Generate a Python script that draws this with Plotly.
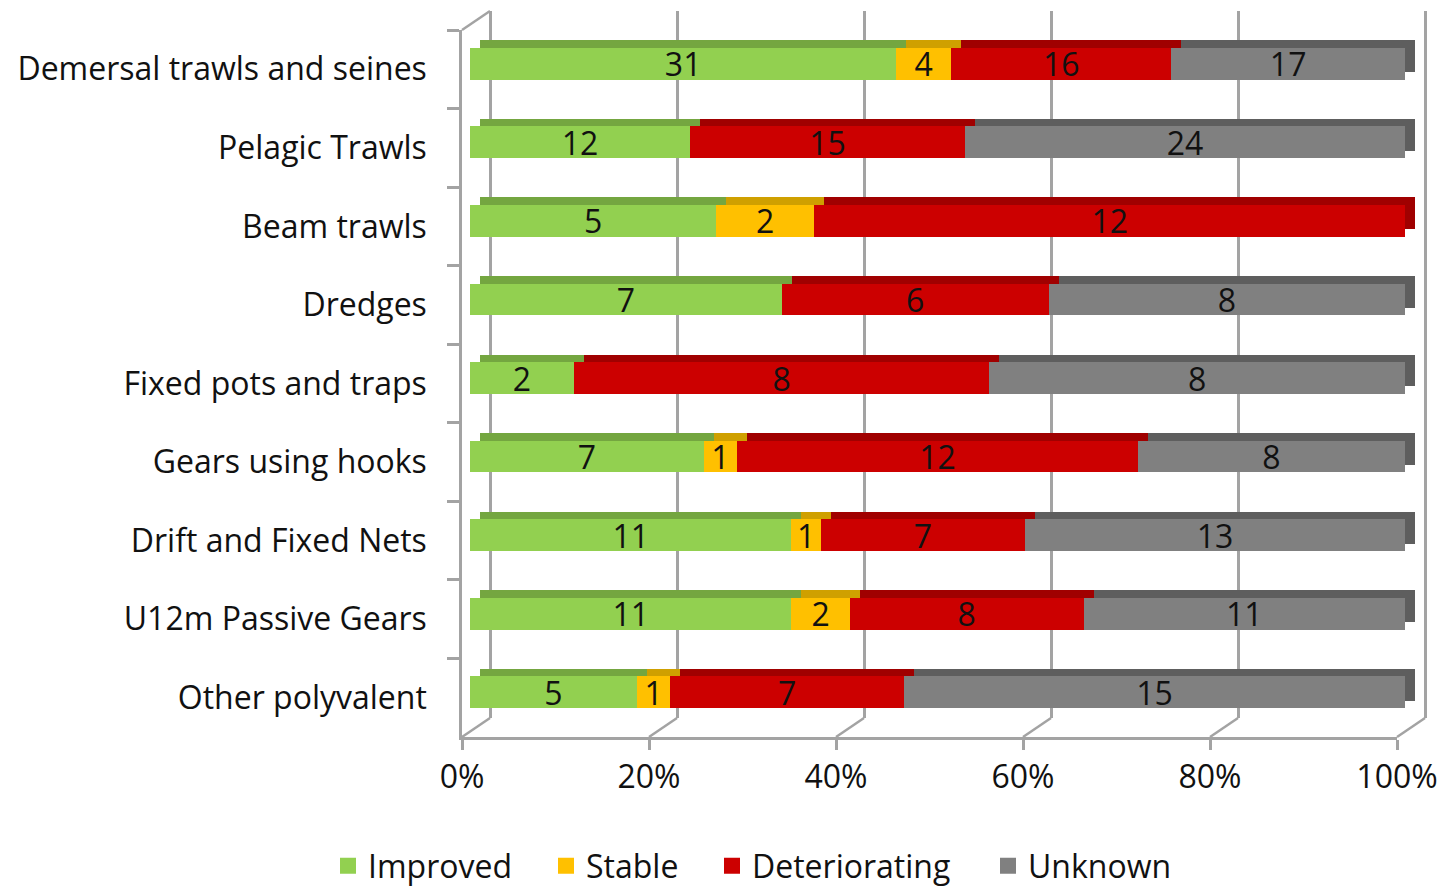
import plotly.graph_objects as go

categories = ["Demersal trawls and seines", "Pelagic Trawls", "Beam trawls", "Dredges",
              "Fixed pots and traps", "Gears using hooks", "Drift and Fixed Nets",
              "U12m Passive Gears", "Other polyvalent"]
improved = [31, 12, 5, 7, 2, 7, 11, 11, 5]
stable = [4, 0, 2, 0, 0, 1, 1, 2, 1]
deteriorating = [16, 15, 12, 6, 8, 12, 7, 8, 7]
unknown = [17, 24, 0, 8, 8, 8, 13, 11, 15]
x_ticks = [0, 20, 40, 60, 80, 100]

series = [
    ("Improved", improved, "#92D050", "#74A640"),
    ("Stable", stable, "#FFC000", "#CFA000"),
    ("Deteriorating", deteriorating, "#CC0000", "#A00000"),
    ("Unknown", unknown, "#808080", "#5E5E5E"),
]

# the page body margin is removed below, so the figure fills the window
OFF = 0
W, H = 1441, 890
FONT = "Open Sans"
FS = 32
TXT = "#111111"
LINE = "#A3A3A3"
LW = 2.5

# geometry (pixels in the screenshot)
FX0, FX1, FY0, FY1 = 462, 1397, 30, 737   # front plane
DX, DY = 28, -19                           # depth of the box
BFX, BFY = 8, -5.5                         # bar front-face depth
SHX, SHY = 10, -7.5                        # bar top/side face extent
LEG_CENTERS = [348, 566, 732, 1008]        # legend square centres
LEG_Y = 866
GPAD = 1.0                                 # back grid range padding (percent)


def px_x(p):
    return (p - OFF) / W


def px_y(p):
    return 1 - (p - OFF) / H


def xd(a, b):
    return [px_x(a), px_x(b)]


def yd(top, bottom):
    return [px_y(bottom), px_y(top)]


fig = go.Figure()

# invisible trace to carry the back wall grid
fig.add_trace(go.Scatter(x=x_ticks, y=[0.5] * len(x_ticks), xaxis="x", yaxis="y",
                         mode="markers", marker=dict(opacity=0), showlegend=False,
                         hoverinfo="skip"))

# bar top/side faces (x2/y2) and front faces (x3/y3)
for name, vals, col, dark in series:
    fig.add_trace(go.Bar(
        y=categories, x=vals, orientation="h", xaxis="x2", yaxis="y2",
        marker=dict(color=dark, line=dict(width=0)), showlegend=False,
        hoverinfo="skip"))
for name, vals, col, dark in series:
    fig.add_trace(go.Bar(
        y=categories, x=vals, orientation="h", xaxis="x3", yaxis="y3", name=name,
        marker=dict(color=col, line=dict(width=0)), showlegend=False,
        text=[str(v) if v else "" for v in vals], textposition="inside",
        insidetextanchor="middle", textangle=0, constraintext="none",
        textfont=dict(family=FONT, size=FS, color=TXT),
        hovertemplate="%{y}<br>" + name + ": %{x}<extra></extra>"))

# invisible trace to carry the front category axis
fig.add_trace(go.Scatter(y=categories, x=[0] * len(categories), xaxis="x4", yaxis="y4",
                         mode="markers", marker=dict(opacity=0), showlegend=False,
                         hoverinfo="skip"))

# legend entries, one legend per entry for exact placement
legends = {}
for i, (name, vals, col, dark) in enumerate(series):
    lg = "legend" if i == 0 else f"legend{i + 1}"
    fig.add_trace(go.Scatter(x=[None], y=[None], xaxis="x4", yaxis="y4", mode="markers",
                             name=name, legend=lg,
                             marker=dict(symbol="square", size=18, color=col)))
    legends[lg] = dict(orientation="h", x=px_x(LEG_CENTERS[i] - 20), xanchor="left",
                       y=px_y(LEG_Y), yanchor="middle", itemsizing="trace",
                       font=dict(family=FONT, size=FS, color=TXT),
                       bgcolor="rgba(0,0,0,0)", borderwidth=0)

rng_y = [len(categories) - 0.5, -0.5]
common_y = dict(type="category", categoryorder="array", categoryarray=categories,
                range=rng_y, autorange=False, fixedrange=True, automargin=False)

# back grid axis padded so that the 0% and 100% lines are drawn inside it
gpx = GPAD / 100 * (FX1 - FX0)

fig.update_layout(
    template="none",
    barmode="stack", barnorm="percent", bargap=0.595,
    paper_bgcolor="white", plot_bgcolor="rgba(0,0,0,0)",
    margin=dict(l=0, r=0, t=0, b=0, pad=0, autoexpand=False),
    font=dict(family=FONT, size=FS, color=TXT),
    # back wall grid
    xaxis=dict(domain=xd(FX0 + DX - gpx, FX1 + DX + gpx), range=[-GPAD, 100 + GPAD],
               anchor="y", showgrid=True, gridcolor=LINE, gridwidth=LW, tickvals=x_ticks,
               zeroline=False, showticklabels=False, ticks="", showline=False,
               automargin=False),
    yaxis=dict(domain=yd(FY0 + DY, FY1 + DY), range=[0, 1], anchor="x",
               showgrid=False, zeroline=False, showticklabels=False, ticks="",
               showline=False, automargin=False),
    # bar top / side faces
    xaxis2=dict(domain=xd(FX0 + BFX + SHX, FX1 + BFX + SHX), range=[0, 100], anchor="y2",
                visible=False, automargin=False),
    yaxis2=dict(domain=yd(FY0 + BFY + SHY, FY1 + BFY + SHY), anchor="x2", visible=False,
                **common_y),
    # bar front faces
    xaxis3=dict(domain=xd(FX0 + BFX, FX1 + BFX), range=[0, 100], anchor="y3",
                visible=False, automargin=False),
    yaxis3=dict(domain=yd(FY0 + BFY, FY1 + BFY), anchor="x3", visible=False, **common_y),
    # front axes
    xaxis4=dict(domain=xd(FX0, FX1), range=[0, 100], anchor="y4", automargin=False,
                tickvals=x_ticks, ticktext=[f"{v}%" for v in x_ticks],
                showgrid=False, zeroline=False, showline=True, linecolor=LINE, linewidth=LW,
                ticks="outside", ticklen=10, tickwidth=LW, tickcolor=LINE,
                tickfont=dict(family=FONT, size=FS, color=TXT)),
    yaxis4=dict(domain=yd(FY0, FY1), anchor="x4", showgrid=False, zeroline=False,
                showline=True, linecolor=LINE, linewidth=LW, ticks="outside", ticklen=12,
                tickwidth=LW, tickcolor=LINE, tickson="boundaries", ticklabelstandoff=26,
                tickfont=dict(family=FONT, size=FS, color=TXT), **common_y),
    **legends,
)

# 3D box edges: top-left diagonal and floor diagonals
shapes = [dict(type="line", xref="paper", yref="paper",
               x0=px_x(FX0), y0=px_y(FY0), x1=px_x(FX0 + DX), y1=px_y(FY0 + DY),
               line=dict(color=LINE, width=LW))]
for v in x_ticks:
    p = FX0 + v / 100 * (FX1 - FX0)
    shapes.append(dict(type="line", xref="paper", yref="paper",
                       x0=px_x(p), y0=px_y(FY1), x1=px_x(p + DX), y1=px_y(FY1 + DY),
                       line=dict(color=LINE, width=LW), layer="below"))
fig.update_layout(shapes=shapes)

post = ("document.documentElement.style.margin='0';"
        "document.body.style.margin='0';document.body.style.overflow='hidden';"
        "var gd=document.getElementById('{plot_id}');"
        "gd.style.width='100vw';gd.style.height='100vh';"
        "Plotly.Plots.resize(gd);")

fig.write_html("out.html", post_script=post, config={"displayModeBar": False})
